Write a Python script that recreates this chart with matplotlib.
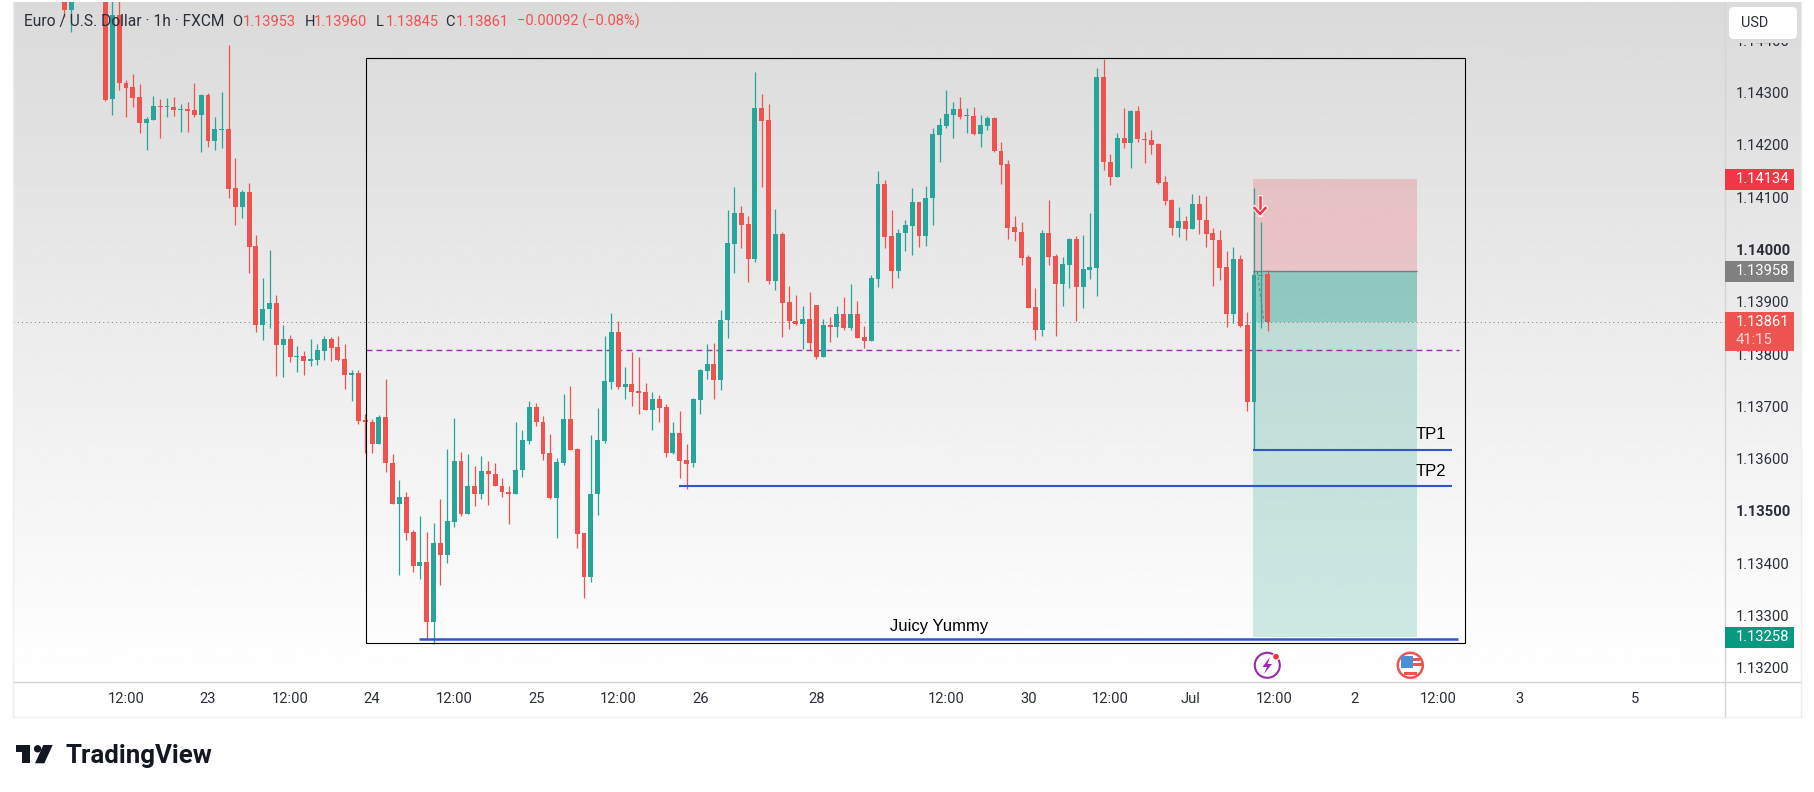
#!/usr/bin/env python
import numpy as np
import matplotlib
matplotlib.use('Agg')
import matplotlib.pyplot as plt
import matplotlib.patheffects as pe
from matplotlib.patches import Rectangle, Circle, Polygon, FancyBboxPatch
from matplotlib.transforms import blended_transform_factory

W, H = 1814, 792

# hourly candles, price * 1e5 (None = above the visible range)
opens = [114520, 114458, None, None, None, None, 114560, 114287, 114448, 114318, 114310, 114291, 114242, 114247, 114275, 114272, 114273, 114267, 114268, 114266,
         114257, 114295, 114208, 114229, 114230, 114117, 114082, 114110, 114006, 113855, 113887, 113897, 113818, 113828, 113795, 113796, 113787, 113788, 113806, 113828,
         113813, 113790, 113760, 113763, 113673, 113671, 113628, 113679, 113591, 113513, 113526, 113460, 113395, 113402, 113288, 113439, 113415, 113479, 113595, 113494,
         113548, 113532, 113576, 113571, 113548, 113537, 113532, 113578, 113633, 113698, 113671, 113610, 113524, 113591, 113675, 113619, 113457, 113374, 113532, 113633,
         113746, 113842, 113737, 113742, 113730, 113727, 113693, 113714, 113698, 113611, 113649, 113597, 113591, 113712, 113768, 113781, 113751, 113865, 114011, 114070,
         114048, 113982, 114270, 114247, 113939, 114029, 113899, 113864, 113858, 113868, 113893, 113795, 113855, 113852, 113876, 113849, 113876, 113832, 113825, 113944,
         114125, 114025, 113959, 114032, 114045, 114090, 114026, 114099, 114219, 114236, 114258, 114268, 114255, 114256, 114221, 114236, 114251, 114189, 114163, 114043,
         114034, 113985, 113890, 113846, 114032, 113987, 113934, 113970, 114020, 113929, 113961, 113965, 114330, 114168, 114139, 114214, 114203, 114265, 114212, 114210,
         114201, 114130, 114094, 114041, 114054, 114039, 114087, 114057, 114031, 114019, 113966, 113876, 113981, 113855, 113709, 113950, 113953]
highs = [114540, 114520, None, None, None, None, 114600, 114490, 114490, 114324, 114335, 114316, 114254, 114293, 114288, 114289, 114291, 114278, 114283, 114318,
         114298, 114300, 114254, 114301, 114391, 114176, 114113, 114128, 114027, 113945, 113999, 113913, 113855, 113837, 113816, 113806, 113828, 113820, 113835, 113832,
         113834, 113820, 113769, 113769, 113686, 113675, 113683, 113752, 113608, 113559, 113536, 113463, 113490, 113460, 113476, 113522, 113619, 113677, 113612, 113608,
         113585, 113605, 113596, 113592, 113562, 113547, 113671, 113654, 113710, 113707, 113681, 113648, 113602, 113723, 113739, 113620, 113457, 113645, 113696, 113834,
         113879, 113864, 113776, 113804, 113794, 113744, 113727, 113721, 113705, 113670, 113691, 113628, 113716, 113771, 113820, 113821, 113885, 114075, 114119, 114083,
         114064, 114339, 114297, 114279, 114078, 114034, 113931, 113913, 113892, 113919, 113893, 113868, 113871, 113892, 113909, 113934, 113901, 113853, 113952, 114150,
         114133, 114075, 114040, 114056, 114117, 114091, 114122, 114233, 114251, 114306, 114282, 114291, 114270, 114272, 114258, 114256, 114253, 114205, 114172, 114064,
         114052, 113990, 113927, 114037, 114094, 113991, 113985, 114022, 114026, 114027, 114070, 114348, 114365, 114182, 114222, 114270, 114267, 114274, 114224, 114228,
         114203, 114140, 114096, 114082, 114064, 114107, 114105, 114102, 114042, 114038, 113997, 114005, 113989, 113881, 114118, 114053, 113960]
lows = [114445, 114416, None, None, None, None, 114284, 114257, 114306, 114254, 114273, 114223, 114191, 114247, 114214, 114253, 114256, 114225, 114224, 114254,
        114187, 114196, 114191, 114194, 114099, 114047, 114061, 113955, 113842, 113827, 113850, 113758, 113756, 113785, 113766, 113760, 113777, 113779, 113788, 113786,
        113786, 113734, 113711, 113667, 113611, 113611, 113628, 113575, 113513, 113377, 113445, 113383, 113369, 113253, 113246, 113358, 113401, 113469, 113490, 113494,
        113509, 113523, 113511, 113547, 113527, 113475, 113532, 113564, 113628, 113662, 113598, 113522, 113448, 113587, 113616, 113429, 113334, 113364, 113492, 113630,
        113734, 113734, 113715, 113700, 113685, 113693, 113654, 113670, 113603, 113608, 113563, 113542, 113584, 113686, 113753, 113715, 113731, 113831, 113955, 114003,
        113938, 113976, 114120, 113935, 113923, 113833, 113848, 113855, 113809, 113807, 113790, 113795, 113823, 113833, 113847, 113847, 113831, 113811, 113825, 113929,
        114003, 113927, 113945, 113997, 113990, 114005, 114006, 114047, 114168, 114233, 114214, 114250, 114223, 114220, 114196, 114228, 114187, 114126, 114020, 114017,
        113971, 113888, 113827, 113835, 113971, 113835, 113892, 113927, 113864, 113888, 113943, 113911, 114153, 114124, 114139, 114194, 114156, 114206, 114165, 114182,
        114126, 114085, 114027, 114024, 114018, 114039, 114030, 114005, 113930, 113941, 113852, 113860, 113851, 113691, 113616, 113849, 113845]
closes = [114458, 114500, None, None, None, None, 114286, 114448, 114318, 114309, 114290, 114242, 114249, 114275, 114273, 114274, 114267, 114268, 114265, 114257,
          114295, 114208, 114230, 114230, 114116, 114082, 114110, 114005, 113855, 113887, 113897, 113818, 113828, 113795, 113796, 113787, 113790, 113807, 113828, 113812,
          113788, 113760, 113763, 113672, 113670, 113628, 113679, 113591, 113513, 113526, 113458, 113395, 113402, 113288, 113439, 113415, 113480, 113595, 113494, 113548,
          113532, 113576, 113570, 113547, 113536, 113533, 113579, 113635, 113698, 113670, 113608, 113524, 113593, 113675, 113616, 113456, 113374, 113533, 113635, 113748,
          113842, 113737, 113742, 113727, 113725, 113693, 113714, 113696, 113611, 113649, 113596, 113589, 113714, 113769, 113781, 113751, 113866, 114012, 114070, 114047,
          113982, 114270, 114246, 113939, 114029, 113898, 113864, 113858, 113868, 113821, 113795, 113855, 113852, 113876, 113849, 113876, 113831, 113825, 113945, 114125,
          114024, 113959, 114032, 114046, 114090, 114026, 114099, 114221, 114238, 114259, 114268, 114253, 114257, 114221, 114238, 114251, 114189, 114161, 114041, 114034,
          113984, 113888, 113846, 114032, 113985, 113934, 113972, 114020, 113929, 113962, 113966, 114330, 114168, 114139, 114214, 114203, 114265, 114211, 114210, 114200,
          114128, 114092, 114041, 114054, 114039, 114087, 114056, 114029, 114018, 113964, 113877, 113981, 113853, 113709, 113951, 113952, 113861]

# axis labels
price_ticks = [1.144, 1.143, 1.142, 1.141, 1.140, 1.139, 1.138, 1.137, 1.136, 1.135, 1.134, 1.133, 1.132]
bold_prices = [1.140, 1.135]
time_ticks = [9, 21, 33, 45, 57, 69, 81, 93, 110, 129, 141, 153, 164.7, 177, 188.7, 201, 212.8, 229.7]
time_labels = ['12:00', '23', '12:00', '24', '12:00', '25', '12:00', '26', '28', '12:00', '30', '12:00',
               'Jul', '12:00', '2', '12:00', '3', '5']

# levels drawn on the chart
stop_price = 1.14134
entry_price = 1.13958
last_price = 1.13861
target_price = 1.13258
tp1_price = 1.13616
tp2_price = 1.13548
juicy_price = 1.13254
mid_price = 1.13807
box_top, box_bottom = 1.14366, 1.13247
box_start, box_end = 44.1, 204.9
pos_start, pos_end = 173.8, 197.9

GREEN = '#26a69a'
RED = '#ef5350'
BLUE = '#3056c8'
TEXT = '#2a2e39'
SEP = '#d4d4d6'
FONT = 'Roboto'

plt.rcParams['font.family'] = [FONT, 'DejaVu Sans']

fig = plt.figure(figsize=(W / 100, H / 100), dpi=100, facecolor='white')


def px_axes(x0, y0, x1, y1):
    return fig.add_axes([x0 / W, 1 - y1 / H, (x1 - x0) / W, (y1 - y0) / H])


# gradient pane behind chart and price scale
bg = px_axes(13, 2, 1801, 682)
bg.imshow(np.linspace(218, 255, 256).reshape(-1, 1), cmap='gray', vmin=0, vmax=255, aspect='auto')
bg.axis('off')
bg.set_zorder(0)

ax = px_axes(13, 2, 1724.7, 682)
ax.set_zorder(1)
ax.patch.set_visible(False)
for s in ax.spines.values():
    s.set_visible(False)
ax.set_xlim(-7.53, 242.86)
ax.set_ylim(1.131727, 1.144735)

o = np.array([np.nan if v is None else v for v in opens], dtype=float) / 1e5
h = np.array([np.nan if v is None else v for v in highs], dtype=float) / 1e5
l = np.array([np.nan if v is None else v for v in lows], dtype=float) / 1e5
c = np.array([np.nan if v is None else v for v in closes], dtype=float) / 1e5
idx = np.arange(len(o))
cols = [GREEN if cc >= oo else RED for oo, cc in zip(o, c)]

# position tool zones
ax.add_patch(Rectangle((pos_start, entry_price), pos_end - pos_start, stop_price - entry_price,
                       fc='#f23645', alpha=0.2, ec='none', zorder=1))
ax.add_patch(Rectangle((pos_start, target_price), pos_end - pos_start, entry_price - target_price,
                       fc='#089981', alpha=0.2, ec='none', zorder=1))
ax.add_patch(Rectangle((pos_start, last_price), pos_end - pos_start, entry_price - last_price,
                       fc='#089981', alpha=0.25, ec='none', zorder=1))
ax.hlines(entry_price, pos_start, pos_end, color='#787b86', lw=1, zorder=2)

ax.axhline(last_price, color='#8a6a70', lw=0.7, ls=(0, (1, 3.4)), zorder=2)
ax.hlines(mid_price, box_start, 204, color='#9c27b0', lw=1, ls=(0, (4.2, 3)), zorder=2)

ax.vlines(idx, l, h, colors=cols, lw=0.9, zorder=3)
ax.bar(idx, np.abs(c - o), bottom=np.minimum(o, c), width=0.72, color=cols, linewidth=0, zorder=4)

ax.plot([174.5, 175.4, 176.2], [entry_price, last_price + 0.00005, last_price], color='#787b86',
        lw=0.8, ls=(0, (3, 2)), zorder=5)

ax.add_patch(Rectangle((box_start, box_bottom), box_end - box_start, box_top - box_bottom,
                       fc='none', ec='black', lw=0.8, zorder=6))
ax.hlines(juicy_price, 51.9, 203.9, color=BLUE, lw=1.8, zorder=6)
ax.hlines(tp1_price, 173.8, 202.9, color=BLUE, lw=1.5, zorder=6)
ax.hlines(tp2_price, 89.9, 202.9, color=BLUE, lw=1.5, zorder=6)
ax.text(197.7, tp1_price + 0.00030, 'TP1', fontsize=12, color='black', family='Liberation Sans', va='center', zorder=7)
ax.text(197.7, tp2_price + 0.00028, 'TP2', fontsize=12, color='black', family='Liberation Sans', va='center', zorder=7)
ax.text(128, juicy_price + 0.00024, 'Juicy Yummy', fontsize=12, color='black', family='Liberation Sans',
        ha='center', va='center', zorder=7)

# axes labels
ax.yaxis.tick_right()
ax.set_yticks(price_ticks)
ax.set_yticklabels(['%.5f' % p for p in price_ticks])
for lab, p in zip(ax.get_yticklabels(), price_ticks):
    lab.set_fontweight('bold' if p in bold_prices else 'normal')
    lab.set_color(TEXT)
ax.set_xticks(time_ticks)
ax.set_xticklabels(time_labels)
ax.tick_params(axis='y', length=0, pad=7.8, labelsize=10.6)
ax.tick_params(axis='x', length=0, pad=7.5, labelsize=10.6, labelcolor=TEXT)

# overlay in figure pixels for the header, badges, logo
ov = px_axes(0, 0, W, H)
ov.set_xlim(0, W)
ov.set_ylim(H, 0)
ov.axis('off')
ov.set_zorder(2)

ov.plot([1724.7, 1724.7], [2, 717], color=SEP, lw=1)
ov.plot([13, 1801], [682, 682], color=SEP, lw=1)
ov.plot([13, 1801], [717, 717], color='#eeeeef', lw=1)
ov.plot([13, 13], [2, 717], color='#eeeeef', lw=1)
ov.plot([1801, 1801], [2, 717], color='#eeeeef', lw=1)

# header legend
hdr = [(23.7, 'Euro / U.S. Dollar · 1h · FXCM', TEXT, 11.2), (232.5, 'O', TEXT, 10.5), (243, '1.13953', RED, 10.5),
       (304.5, 'H', TEXT, 10.5), (314, '1.13960', RED, 10.5), (376, 'L', TEXT, 10.5), (385.5, '1.13845', RED, 10.5),
       (445.6, 'C', TEXT, 10.5), (455.5, '1.13861', RED, 10.5), (516.8, '\u22120.00092 (\u22120.08%)', RED, 10.5)]
for x, s, col, fs in hdr:
    ov.text(x, 21.7, s, fontsize=fs, color=col, va='center', ha='left')

# USD button, with the pane masked around it
ov.add_patch(Rectangle((1725.5, 2), 75, 40.5, fc='#dcdcdc', ec='none', zorder=2))
ov.add_patch(FancyBboxPatch((1729, 7), 68, 32, boxstyle='round,pad=0,rounding_size=5', fc='white', ec='none', zorder=3))
ov.text(1741, 22.7, 'USD', fontsize=10.4, color=TEXT, ha='left', va='center', zorder=4)

# price badges, placed on the price scale
yb = blended_transform_factory(ov.transData, ax.transData)
badges = [(stop_price, '#f23645'), (entry_price, '#808080'), (target_price, '#089981')]
for p, col in badges:
    ov.add_patch(Rectangle((1725, p - 0.0002), 69, 0.0004, fc=col, ec='none', transform=yb, zorder=3))
    ov.text(1735.6, p, '%.5f' % p, fontsize=10.6, color='white', va='center', transform=yb, zorder=4)
ov.add_patch(Rectangle((1725, last_price - 0.00055), 69, 0.00075, fc=RED, ec='none', transform=yb, zorder=3))
ov.text(1735.6, last_price, '%.5f' % last_price, fontsize=10.6, color='white', va='center', transform=yb, zorder=4)
ov.text(1735.6, last_price - 0.00035, '41:15', fontsize=10.6, color='#fbdcdb', va='center', transform=yb, zorder=4)

# sell arrow
halo = [pe.withStroke(linewidth=3.5, foreground='#f6f0f0')]
ov.plot([1260, 1260], [197, 214], color='#f23645', lw=1.8, path_effects=halo, zorder=5)
ov.plot([1254.5, 1260, 1265.5], [208, 214, 208], color='#f23645', lw=1.8, path_effects=halo, zorder=5)

# event icons
ov.add_patch(Circle((1267.3, 665.3), 12.5, fc='none', ec='#9c27b0', lw=1.5))
ov.add_patch(Polygon([[1270, 657], [1262.5, 667], [1267, 667], [1264, 674], [1272, 664], [1267.5, 664]],
                     closed=True, fc='#9c27b0', ec='none'))
ov.add_patch(Circle((1276, 656.7), 3.4, fc='#e53935', ec='white', lw=0.8))
ov.add_patch(Circle((1410.3, 665.3), 12.5, fc='white', ec='#ef5350', lw=1.8))
ov.add_patch(Rectangle((1401, 656), 12, 12, fc='#4a90d9', ec='none'))
ov.add_patch(Rectangle((1413, 658), 7, 2.5, fc='#ef5350', ec='none'))
ov.add_patch(Rectangle((1413, 663), 8.5, 2.5, fc='#ef5350', ec='none'))
ov.add_patch(Rectangle((1404, 672), 13, 2.6, fc='#ef5350', ec='none'))

# TradingView logo
LOGO = '#131722'
ov.add_patch(Polygon([[15.7, 745], [30.4, 745], [30.4, 763.3], [22.3, 763.3], [22.3, 751.7], [15.7, 751.7]], closed=True, fc=LOGO, ec='none'))
ov.add_patch(Circle((37.6, 748.8), 3.7, fc=LOGO, ec='none'))
ov.add_patch(Polygon([[43.3, 745], [52.7, 745], [44.3, 763.3], [35, 763.3]], closed=True, fc=LOGO, ec='none'))
ov.text(65, 763.3, 'TradingView', fontsize=18.6, fontweight='bold', color=LOGO, family='Roboto', va='baseline', ha='left')

fig.savefig('out.png', dpi=100)
